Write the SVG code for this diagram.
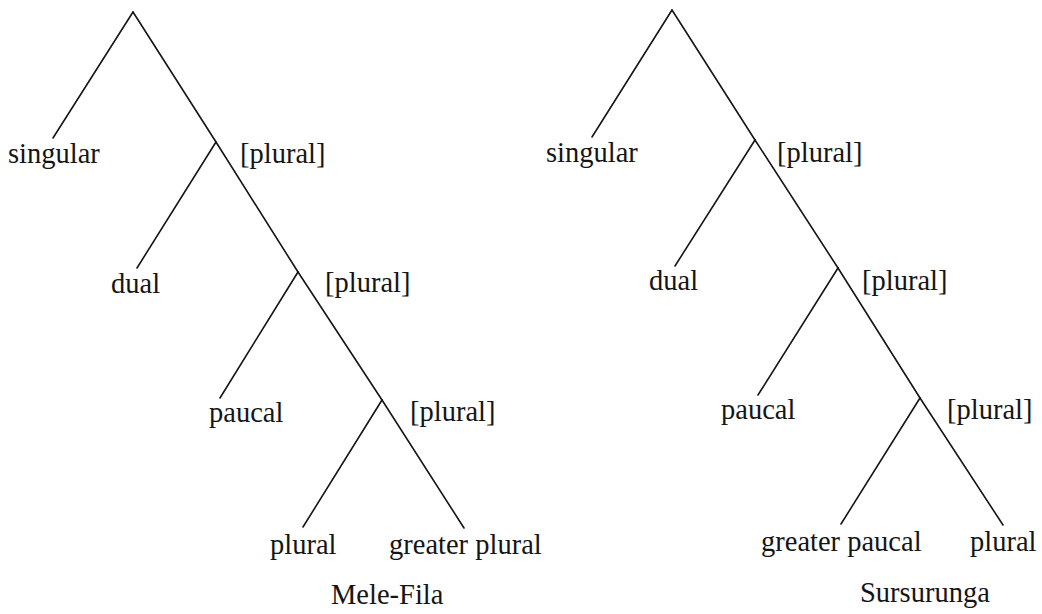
<svg xmlns="http://www.w3.org/2000/svg" width="1042" height="614" viewBox="0 0 1042 614">
<style>
  .e { stroke: #151515; stroke-width: 1.6; fill: none; stroke-linecap: round; }
  .t { font-family: "Liberation Serif", "Times New Roman", serif; font-size: 28.5px; fill: #151515; }
</style>
<rect width="1042" height="614" fill="#ffffff"/>
<g id="connectors">
  <!-- Mele-Fila -->
  <line class="e" x1="133" y1="12" x2="53" y2="138"/>
  <line class="e" x1="133" y1="12" x2="216" y2="142"/>
  <line class="e" x1="216" y1="142" x2="137" y2="268"/>
  <line class="e" x1="216" y1="142" x2="298" y2="272"/>
  <line class="e" x1="298" y1="272" x2="220" y2="398"/>
  <line class="e" x1="298" y1="272" x2="382" y2="400"/>
  <line class="e" x1="382" y1="400" x2="303" y2="527"/>
  <line class="e" x1="382" y1="400" x2="464" y2="528"/>
  <!-- Sursurunga -->
  <line class="e" x1="672" y1="10" x2="592" y2="137"/>
  <line class="e" x1="672" y1="10" x2="755" y2="140"/>
  <line class="e" x1="755" y1="140" x2="675" y2="266"/>
  <line class="e" x1="755" y1="140" x2="838" y2="268"/>
  <line class="e" x1="838" y1="268" x2="758" y2="395"/>
  <line class="e" x1="838" y1="268" x2="920" y2="398"/>
  <line class="e" x1="920" y1="398" x2="841" y2="524"/>
  <line class="e" x1="920" y1="398" x2="1003" y2="525"/>
</g>
<g id="mf-singular"><text class="t" x="8" y="163">singular</text></g>
<g id="mf-plural1"><text class="t" x="240" y="163">[plural]</text></g>
<g id="mf-dual"><text class="t" x="111" y="293">dual</text></g>
<g id="mf-plural2"><text class="t" x="325" y="292">[plural]</text></g>
<g id="mf-paucal"><text class="t" x="209" y="422">paucal</text></g>
<g id="mf-plural3"><text class="t" x="410" y="421">[plural]</text></g>
<g id="mf-plural-leaf"><text class="t" x="270" y="554">plural</text></g>
<g id="mf-greater-plural"><text class="t" x="389" y="554">greater plural</text></g>
<g id="mf-title"><text class="t" x="331" y="604">Mele-Fila</text></g>

<g id="ss-singular"><text class="t" x="546" y="162">singular</text></g>
<g id="ss-plural1"><text class="t" x="777" y="162">[plural]</text></g>
<g id="ss-dual"><text class="t" x="649" y="290">dual</text></g>
<g id="ss-plural2"><text class="t" x="862" y="290">[plural]</text></g>
<g id="ss-paucal"><text class="t" x="721" y="419">paucal</text></g>
<g id="ss-plural3"><text class="t" x="947" y="419">[plural]</text></g>
<g id="ss-greater-paucal"><text class="t" x="761" y="551">greater paucal</text></g>
<g id="ss-plural-leaf"><text class="t" x="970" y="551">plural</text></g>
<g id="ss-title"><text class="t" x="860" y="602">Sursurunga</text></g>
</svg>
